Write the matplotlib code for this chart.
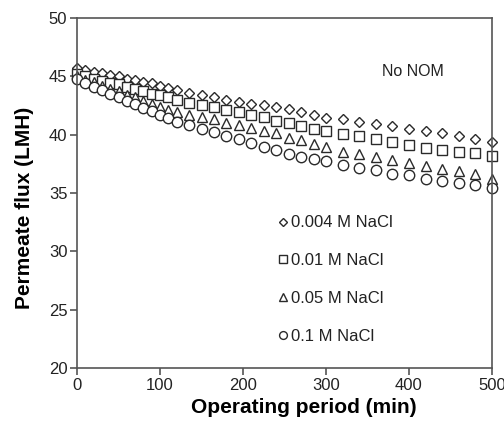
import matplotlib
matplotlib.use("Agg")
import matplotlib.pyplot as plt

plt.rcParams['font.family'] = ['Liberation Sans', 'DejaVu Sans']

time_min = [0, 10, 20, 30, 40, 50, 60, 70, 80, 90, 100, 110, 120,
            135, 150, 165, 180, 195, 210, 225, 240, 255, 270, 285, 300,
            320, 340, 360, 380, 400, 420, 440, 460, 480, 500]

flux_0004 = [45.7, 45.5, 45.4, 45.3, 45.1, 45.0, 44.8, 44.7, 44.5, 44.4, 44.2, 44.0, 43.85,
             43.6, 43.4, 43.2, 43.0, 42.8, 42.65, 42.5, 42.4, 42.2, 41.9, 41.7, 41.45,
             41.3, 41.1, 40.9, 40.7, 40.5, 40.3, 40.1, 39.9, 39.65, 39.4]
flux_001 = [45.2, 45.0, 44.8, 44.6, 44.4, 44.3, 44.1, 43.9, 43.7, 43.5, 43.4, 43.2, 43.0,
            42.75, 42.55, 42.4, 42.15, 41.9, 41.7, 41.5, 41.2, 41.0, 40.7, 40.5, 40.3,
            40.05, 39.85, 39.6, 39.4, 39.1, 38.85, 38.65, 38.5, 38.4, 38.2]
flux_005 = [45.0, 44.7, 44.5, 44.2, 43.9, 43.7, 43.4, 43.2, 42.9, 42.6, 42.4, 42.1, 41.9,
            41.7, 41.5, 41.3, 41.0, 40.8, 40.6, 40.35, 40.15, 39.7, 39.5, 39.2, 38.9,
            38.55, 38.35, 38.1, 37.8, 37.6, 37.3, 37.05, 36.85, 36.65, 36.2]
flux_01 = [44.8, 44.4, 44.1, 43.8, 43.5, 43.2, 42.9, 42.6, 42.3, 42.0, 41.7, 41.4, 41.1,
           40.85, 40.5, 40.2, 39.85, 39.6, 39.3, 38.95, 38.65, 38.35, 38.1, 37.9, 37.7,
           37.4, 37.1, 37.0, 36.6, 36.5, 36.2, 36.05, 35.85, 35.7, 35.4]

labels = ['0.004 M NaCl', '0.01 M NaCl', '0.05 M NaCl', '0.1 M NaCl']
markers = ['D', 's', '^', 'o']
sizes = [5.5, 7, 7, 7.5]
series = [flux_0004, flux_001, flux_005, flux_01]

fig = plt.figure(figsize=(5.04, 4.26), dpi=100)
ax = fig.add_axes([0.153, 0.136, 0.823, 0.822])

edge = '#2a2a2a'
for vals, m, s, lab in zip(series, markers, sizes, labels):
    ax.plot(time_min, vals, linestyle='none', marker=m, markersize=s,
            markerfacecolor='white', markeredgecolor=edge, markeredgewidth=1.0,
            label=lab, clip_on=False)

ax.set_xlim(0, 500)
ax.set_ylim(20, 50)
ax.set_xticks([0, 100, 200, 300, 400, 500])
ax.set_yticks([20, 25, 30, 35, 40, 45, 50])

for sp in ax.spines.values():
    sp.set_color('#555555')
    sp.set_linewidth(1.2)

ax.tick_params(axis='both', direction='out', length=5, width=1.2, color='#555555',
               labelsize=12, labelcolor='#222222', pad=2)

ax.set_xlabel('Operating period (min)', fontsize=15, fontweight='bold')
ax.set_ylabel('Permeate flux (LMH)', fontsize=15, fontweight='bold')
ax.xaxis.set_label_coords(0.547, -0.085)
ax.yaxis.set_label_coords(-0.105, 0.458)

ax.text(0.736, 0.847, 'No NOM', transform=ax.transAxes, fontsize=11.5,
        color='#222222', va='center')

leg = ax.legend(loc='upper left', bbox_to_anchor=(0.468, 0.455), frameon=False,
                fontsize=12, markerscale=0.75, handlelength=0.6, handletextpad=0.2,
                labelspacing=1.37, borderaxespad=0)
for t in leg.get_texts():
    t.set_color('#222222')

fig.savefig('out.png', dpi=100)
